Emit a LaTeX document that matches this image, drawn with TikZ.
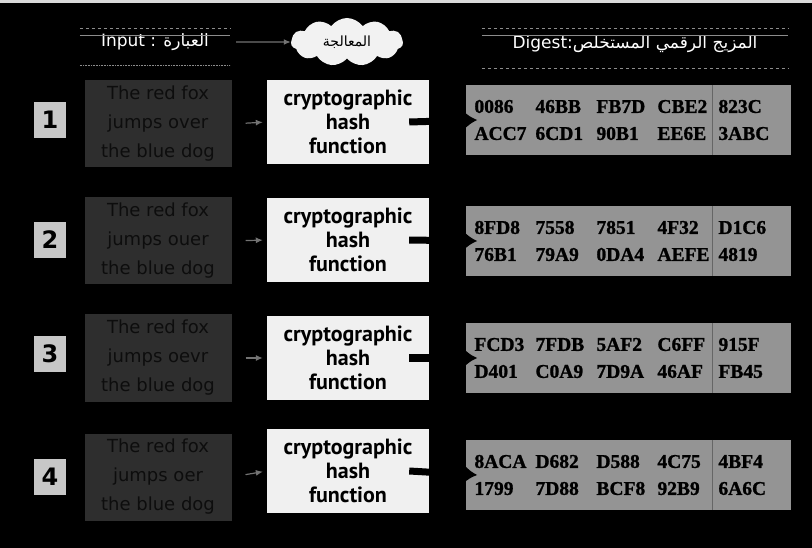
\documentclass[tikz,border=0pt]{standalone}
\usepackage{fontspec}
\usetikzlibrary{shapes.symbols,arrows.meta}
\setmainfont{Liberation Serif}
\newfontfamily\hdfont{DejaVu Sans}
\newfontfamily\arabicfont[Script=Arabic]{DejaVu Sans}
\newfontfamily\fnfont{PT Sans}
\newfontfamily\hexfont[FakeBold=1.2]{Liberation Serif}
\TeXXeTstate=1
\newcommand{\hexline}[5]{\makebox[61pt][l]{#1}\makebox[61pt][l]{#2}\makebox[61pt][l]{#3}\makebox[61pt][l]{#4}#5}
\begin{document}
\begin{tikzpicture}[x=1pt, y=1pt,
    numStyle/.style={rectangle, fill=black!22, text=black, minimum width=32pt, minimum height=36pt, inner sep=0pt, font=\hdfont\bfseries\fontsize{24}{24}\selectfont},
    inStyle/.style={rectangle, fill=black!82, text=black!95, minimum width=147pt, minimum height=87pt, align=center, font=\hdfont\fontsize{18}{29}\selectfont},
    fnStyle/.style={rectangle, fill=black!6, text=black, minimum width=162pt, minimum height=84pt, inner sep=0pt, align=center, font=\fnfont\bfseries\fontsize{22}{24}\selectfont},
    digStyle/.style={rectangle, fill=black!42, text=black, minimum width=325pt, minimum height=70pt, inner xsep=9pt, text width=307pt, align=left, font=\hexfont\bfseries\fontsize{19.5}{27}\selectfont},
    headStyle/.style={text=white, font=\hdfont\fontsize{17}{17}\selectfont},
    ruleStyle/.style={draw=black!45, line width=0.6pt},
    grayArrow/.style={draw=black!55, line width=1.2pt, -{Latex[length=7pt,width=6pt]}},
    hashArrow/.style={draw=black, line width=7pt, -{Latex[length=12pt,width=16pt]}}]
    \fill[black] (0, 0) rectangle (812, -548);
    \fill[black!15] (0, 0) rectangle (812, -3);
    \useasboundingbox (0, 0) rectangle (812, -548);

    % header
    \node[headStyle, minimum width=150pt, minimum height=46pt] (head_in) at (155, -42) {Input : {\arabicfont\beginR العبارة\endR}};
    \node[cloud, cloud puffs=11, cloud puff arc=110, aspect=2.4, fill=black!5, minimum width=112pt, minimum height=48pt, inner sep=0pt, font=\arabicfont\fontsize{14}{14}\selectfont] (head_fn) at (347, -42) {\beginR المعالجة\endR};
    \node[headStyle, minimum width=306pt, minimum height=48pt] (head_dig) at (635, -44) {Digest:{\arabicfont\beginR المزيج الرقمي المستخلص\endR}};

    \draw[ruleStyle, dashed] ([yshift=-10pt]head_in.north west) -- ([yshift=-10pt]head_in.north east);
    \draw[ruleStyle] ([yshift=-17pt]head_in.north west) -- ([yshift=-17pt]head_in.north east);
    \draw[ruleStyle, densely dotted] (head_in.south west) -- (head_in.south east);
    \draw[ruleStyle, dashed] ([yshift=-9pt]head_dig.north west) -- ([yshift=-9pt]head_dig.north east);
    \draw[ruleStyle] ([yshift=-16pt]head_dig.north west) -- ([yshift=-16pt]head_dig.north east);
    \draw[ruleStyle, dashed] (head_dig.south west) -- (head_dig.south east);
    \draw[grayArrow] ([xshift=6pt]head_in.east) -- (head_fn.west);

    % row 1
    \node[numStyle] (num_1) at (50, -120) {1};
    \node[inStyle]  (in_1)  at (158, -124) {The red fox\\jumps over\\the blue dog};
    \node[fnStyle]  (fn_1)  at (348, -122) {cryptographic\\hash\\function};
    \node[digStyle] (dig_1) at (628, -120) {\hexline{0086}{46BB}{FB7D}{CBE2}{823C}\\\hexline{ACC7}{6CD1}{90B1}{EE6E}{3ABC}};

    % row 2
    \node[numStyle] (num_2) at (50, -240) {2};
    \node[inStyle]  (in_2)  at (158, -241) {The red fox\\jumps ouer\\the blue dog};
    \node[fnStyle]  (fn_2)  at (348, -240) {cryptographic\\hash\\function};
    \node[digStyle] (dig_2) at (628, -241) {\hexline{8FD8}{7558}{7851}{4F32}{D1C6}\\\hexline{76B1}{79A9}{0DA4}{AEFE}{4819}};

    % row 3
    \node[numStyle] (num_3) at (50, -354) {3};
    \node[inStyle]  (in_3)  at (158, -358) {The red fox\\jumps oevr\\the blue dog};
    \node[fnStyle]  (fn_3)  at (348, -358) {cryptographic\\hash\\function};
    \node[digStyle] (dig_3) at (628, -358) {\hexline{FCD3}{7FDB}{5AF2}{C6FF}{915F}\\\hexline{D401}{C0A9}{7D9A}{46AF}{FB45}};

    % row 4
    \node[numStyle] (num_4) at (50, -477) {4};
    \node[inStyle]  (in_4)  at (158, -477) {The red fox\\jumps oer\\the blue dog};
    \node[fnStyle]  (fn_4)  at (348, -471) {cryptographic\\hash\\function};
    \node[digStyle] (dig_4) at (628, -475) {\hexline{8ACA}{D682}{D588}{4C75}{4BF4}\\\hexline{1799}{7D88}{BCF8}{92B9}{6A6C}};

    \foreach \i in {1,...,4} {
        \draw[black!60, line width=0.8pt] ([xshift=247pt]dig_\i.north west) -- ([xshift=247pt]dig_\i.south west);
        \draw[grayArrow, shorten <=14pt, shorten >=4pt] (in_\i.east) -- (fn_\i.west);
        \draw[hashArrow] ([xshift=-20pt]fn_\i.east) -- ([xshift=12pt]dig_\i.west);
    }
\end{tikzpicture}
\end{document}
